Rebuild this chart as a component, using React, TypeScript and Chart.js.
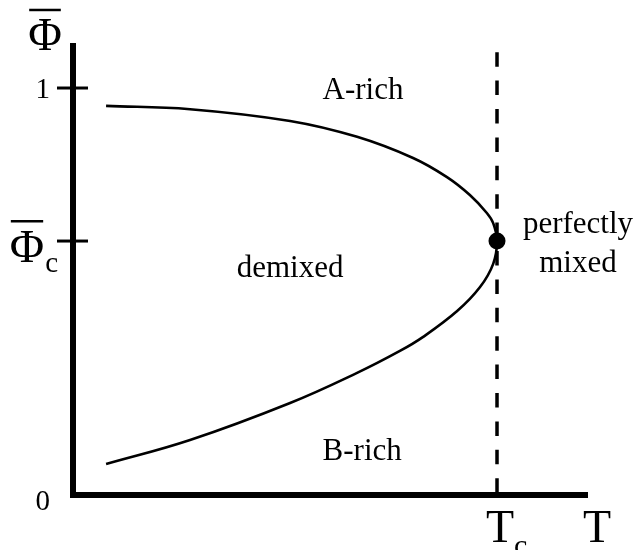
import React, { useEffect, useRef } from "react";
import { Chart, registerables } from "chart.js";

Chart.register(...registerables);

// ---- data ----
const T_C = 1.0;
const PHI_C = 0.624;
const T_MAX = 1.2146;
const PHI_MAX = 1.1106;
const DASH_TOP = 1.088;

// coexistence curve, upper branch (A-rich side), left -> nose
const UPPER_T = [0.078, 0.276, 0.512, 0.67, 0.802, 0.882, 0.936, 0.976, 0.991, 1.0];
const UPPER_PHI = [0.956, 0.948, 0.919, 0.88, 0.828, 0.781, 0.737, 0.693, 0.668, 0.624];
// lower branch (B-rich side), nose -> left
const LOWER_T = [0.991, 0.96, 0.906, 0.825, 0.771, 0.67, 0.512, 0.276, 0.078];
const LOWER_PHI = [0.568, 0.511, 0.452, 0.388, 0.354, 0.3, 0.226, 0.135, 0.076];

const Y_TICK_VALUES = [1, PHI_C];
const Y_ZERO_LABEL = "0";
const Y_ONE_LABEL = "1";
const REGION_TEXTS = ["A-rich", "demixed", "B-rich"];
const CRIT_TEXTS = ["perfectly", "mixed"];

const FONT = "'Liberation Serif', 'DejaVu Serif', serif";

// label anchors (data coordinates) – layout only
const REGION_POS = [
  { t: 0.684, p: 0.973 },
  { t: 0.512, p: 0.536 },
  { t: 0.682, p: 0.086 },
];
const CRIT_POS = [
  { t: 1.191, p: 0.644 },
  { t: 1.191, p: 0.548 },
];

const overlay = {
  id: "phaseOverlay",
  afterDatasetsDraw(chart: any) {
    const ctx = chart.ctx as CanvasRenderingContext2D;
    const xs = chart.scales.x;
    const ys = chart.scales.y;
    const ca = chart.chartArea;
    const x0 = xs.getPixelForValue(0);
    const y0 = ys.getPixelForValue(0);
    ctx.save();
    ctx.strokeStyle = "#000";
    ctx.fillStyle = "#000";
    ctx.lineCap = "butt";
    // axes
    ctx.lineWidth = 6;
    ctx.beginPath();
    ctx.moveTo(x0, ca.top);
    ctx.lineTo(x0, y0 + 3);
    ctx.stroke();
    ctx.beginPath();
    ctx.moveTo(x0 - 3, y0);
    ctx.lineTo(ca.right, y0);
    ctx.stroke();
    // y ticks
    ctx.lineWidth = 3;
    Y_TICK_VALUES.forEach((v) => {
      const y = ys.getPixelForValue(v);
      ctx.beginPath();
      ctx.moveTo(x0 - 16, y);
      ctx.lineTo(x0 + 15, y);
      ctx.stroke();
    });
    // tick labels
    ctx.textBaseline = "alphabetic";
    ctx.textAlign = "right";
    ctx.font = `29px ${FONT}`;
    ctx.fillText(Y_ONE_LABEL, x0 - 23, ys.getPixelForValue(1) + 10);
    ctx.fillText(Y_ZERO_LABEL, x0 - 23, y0 + 15);

    // Phi-bar axis title
    const drawPhiBar = (cx: number, base: number, size: number) => {
      ctx.font = `${size}px ${FONT}`;
      ctx.textAlign = "center";
      ctx.fillText("\u03A6", cx, base);
      const w = ctx.measureText("\u03A6").width;
      ctx.lineWidth = 2.5;
      ctx.beginPath();
      ctx.moveTo(cx - w / 2 + 1, base - size * 0.87);
      ctx.lineTo(cx + w / 2 - 1, base - size * 0.87);
      ctx.stroke();
      return w;
    };
    drawPhiBar(x0 - 28, ca.top + 7, 46);
    const yc = ys.getPixelForValue(PHI_C);
    const wc = drawPhiBar(x0 - 46, yc + 21, 47);
    ctx.font = `29px ${FONT}`;
    ctx.textAlign = "left";
    ctx.fillText("c", x0 - 46 + wc / 2 + 1, yc + 31);

    // x axis labels
    ctx.font = `46px ${FONT}`;
    ctx.textAlign = "center";
    const xt = xs.getPixelForValue(T_C);
    ctx.fillText("T", xt + 3, y0 + 47);
    const tw = ctx.measureText("T").width;
    ctx.font = `30px ${FONT}`;
    ctx.textAlign = "left";
    ctx.fillText("c", xt + 3 + tw / 2, y0 + 60);
    ctx.font = `46px ${FONT}`;
    ctx.textAlign = "center";
    ctx.fillText("T", ca.right + 9, y0 + 47);

    // region labels
    ctx.font = `31px ${FONT}`;
    ctx.textAlign = "center";
    REGION_TEXTS.forEach((s, i) => {
      ctx.fillText(s, xs.getPixelForValue(REGION_POS[i].t), ys.getPixelForValue(REGION_POS[i].p));
    });
    CRIT_TEXTS.forEach((s, i) => {
      ctx.fillText(s, xs.getPixelForValue(CRIT_POS[i].t), ys.getPixelForValue(CRIT_POS[i].p));
    });
    ctx.restore();
  },
};

export default function App() {
  const ref = useRef<HTMLCanvasElement | null>(null);
  useEffect(() => {
    if (!ref.current) return;
    const curve = [
      ...UPPER_T.map((t, i) => ({ x: t, y: UPPER_PHI[i] })),
      ...LOWER_T.map((t, i) => ({ x: t, y: LOWER_PHI[i] })),
    ];
    const chart = new Chart(ref.current, {
      type: "line",
      data: {
        datasets: [
          {
            data: [{ x: T_C, y: PHI_C }],
            showLine: false,
            pointRadius: 8.5,
            pointBackgroundColor: "#000",
            pointBorderWidth: 0,
            borderColor: "#000",
          } as any,
          {
            data: curve,
            borderColor: "#000",
            borderWidth: 2.6,
            pointRadius: 0,
            tension: 0.4,
            fill: false,
          },
          {
            data: [
              { x: T_C, y: DASH_TOP },
              { x: T_C, y: 0 },
            ],
            borderColor: "#000",
            borderWidth: 3.5,
            borderDash: [14.5, 13.9],
            pointRadius: 0,
            fill: false,
          },
        ],
      },
      options: {
        animation: false,
        responsive: true,
        maintainAspectRatio: false,
        layout: { padding: { left: 73, right: 51, top: 43, bottom: 55 } },
        scales: {
          x: { type: "linear", min: 0, max: T_MAX, display: false },
          y: { type: "linear", min: 0, max: PHI_MAX, display: false },
        },
        plugins: {
          legend: { display: false },
          tooltip: { enabled: false },
        },
      },
      plugins: [overlay],
    });
    return () => chart.destroy();
  }, []);
  return (
    <div style={{ position: "absolute", left: 0, top: 0, width: 639, height: 550, background: "#fff" }}>
      <canvas ref={ref} />
    </div>
  );
}
